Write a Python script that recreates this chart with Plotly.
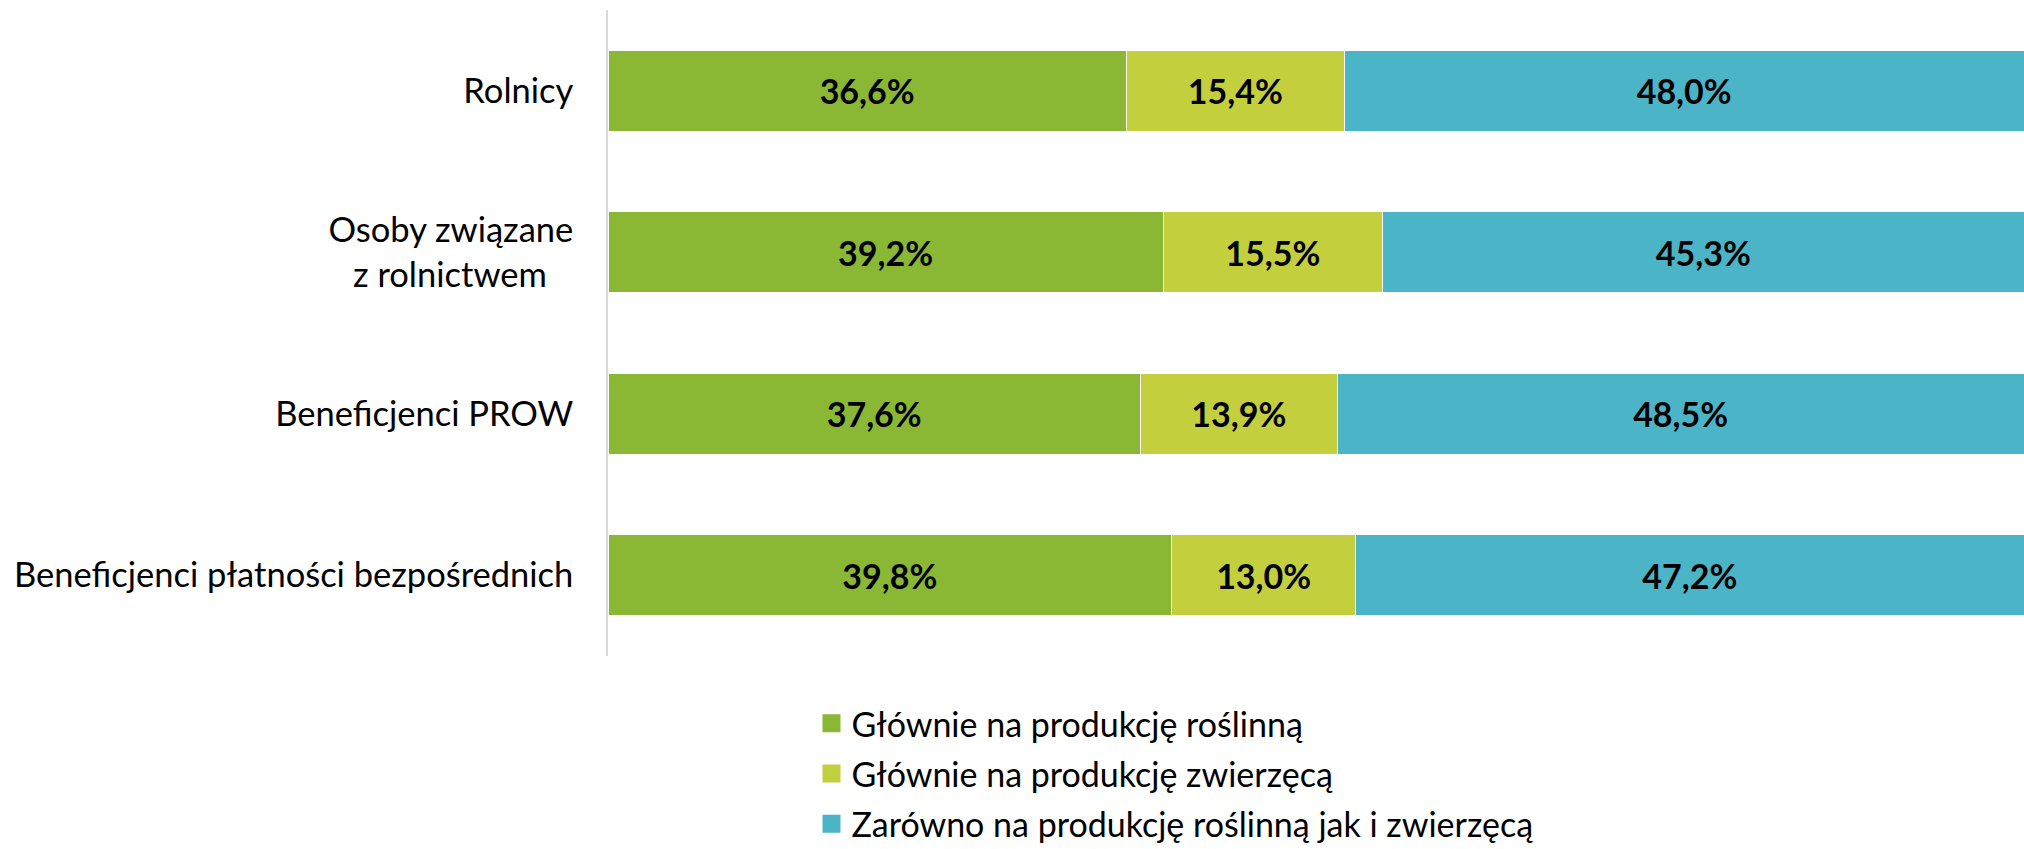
import plotly.graph_objects as go

categories = ["Rolnicy", "Osoby związane<br>z rolnictwem\u00a0\u00a0\u00a0", "Beneficjenci PROW",
              "Beneficjenci płatności bezpośrednich"]
series_names = ["Głównie na produkcję roślinną", "Głównie na produkcję zwierzęcą",
                "Zarówno na produkcję roślinną jak i zwierzęcą"]
roslinna = [36.6, 39.2, 37.6, 39.8]
zwierzeca = [15.4, 15.5, 13.9, 13.0]
obie = [48.0, 45.3, 48.5, 47.2]
colors = ["#8BB834", "#C3CF3C", "#4BB4C6"]

FONT = "Lato"
fig = go.Figure()
for name, vals, col in zip(series_names, [roslinna, zwierzeca, obie], colors):
    fig.add_trace(go.Bar(
        y=categories, x=vals, name=name, orientation="h",
        marker=dict(color=col, line=dict(color="white", width=1)),
        text=[f"{v:.1f}%".replace(".", ",") for v in vals],
        textposition="inside", insidetextanchor="middle", textangle=0,
        textfont=dict(family=FONT, size=34, color="black", weight="bold"),
        constraintext="none", legendgroup=name, showlegend=False, hoverinfo="skip",
    ))
# legend entries with larger square swatches
for name, col in zip(series_names, colors):
    fig.add_trace(go.Scatter(
        x=[None], y=[None], mode="markers", name=name, legendgroup=name,
        marker=dict(symbol="square", size=16, color=col, line=dict(color=col, width=2)),
        showlegend=True, hoverinfo="skip",
    ))

fig.update_layout(
    barmode="stack", bargap=0.5,
    width=2024, height=849,
    margin=dict(l=608, r=0, t=10, b=193, autoexpand=False),
    plot_bgcolor="white", paper_bgcolor="white",
    font=dict(family=FONT, size=34.5, color="black"),
    showlegend=True,
    legend=dict(orientation="v", x=0.1437, xanchor="left", y=-0.06, yanchor="top",
                font=dict(family=FONT, size=34, color="black"), tracegroupgap=3,
                traceorder="grouped"),
    xaxis=dict(range=[0, 100], visible=False, showgrid=False, zeroline=False),
    yaxis=dict(autorange="reversed", showline=True, linecolor="#d9d9d9", linewidth=1.5,
               showgrid=False, ticks="", ticklabelstandoff=26,
               tickfont=dict(family=FONT, size=34.5, color="black")),
)
fig.write_html("out.html", config={"displayModeBar": False},
               post_script="document.body.style.margin='0';document.body.style.overflow='hidden';")
